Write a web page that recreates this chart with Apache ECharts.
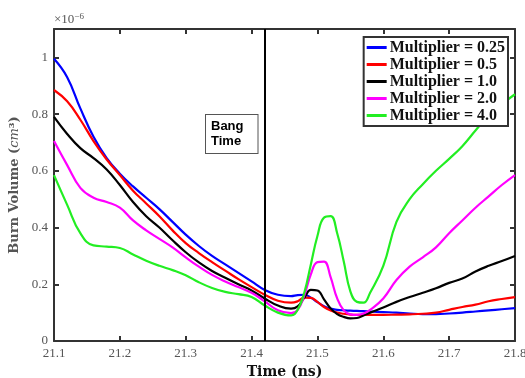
<!DOCTYPE html>
<html>
<head>
<meta charset="utf-8">
<script src="https://cdn.jsdelivr.net/npm/echarts@6/dist/echarts.min.js"></script>
<style>
  html, body { margin: 0; padding: 0; background: #fff; }
  #chart { width: 525px; height: 378px; }
</style>
</head>
<body>
<div id="chart"></div>
<script>
// time axis (ns) shared by every curve
const times = [
  21.10, 21.12, 21.14, 21.16, 21.18, 21.20, 21.22, 21.24, 21.26, 21.28,
  21.30, 21.32, 21.34, 21.36, 21.38, 21.40, 21.42, 21.44, 21.46, 21.47,
  21.48, 21.49, 21.50, 21.51, 21.52, 21.53, 21.54, 21.55, 21.56, 21.57,
  21.58, 21.60, 21.62, 21.64, 21.66, 21.68, 21.70, 21.72, 21.74, 21.76,
  21.78, 21.80
];

// burn volume, units of 1e-6 cm^3
const mult025 = [
  0.995, 0.93, 0.82, 0.72, 0.645, 0.59, 0.545, 0.505, 0.465, 0.42,
  0.375, 0.335, 0.30, 0.27, 0.24, 0.21, 0.18, 0.163, 0.158, 0.162,
  0.163, 0.153, 0.137, 0.123, 0.114, 0.110, 0.108, 0.107, 0.106, 0.105,
  0.104, 0.102, 0.100, 0.097, 0.095, 0.095, 0.097, 0.100, 0.104, 0.108,
  0.112, 0.116
];
const mult05 = [
  0.885, 0.845, 0.78, 0.705, 0.64, 0.585, 0.53, 0.485, 0.44, 0.39,
  0.345, 0.31, 0.278, 0.248, 0.218, 0.19, 0.163, 0.142, 0.135, 0.14,
  0.153, 0.152, 0.138, 0.12, 0.108, 0.10, 0.096, 0.093, 0.092, 0.092,
  0.092, 0.092, 0.093, 0.094, 0.096, 0.10, 0.11, 0.12, 0.128, 0.14,
  0.148, 0.155
];
const mult10 = [
  0.79, 0.73, 0.68, 0.645, 0.605, 0.55, 0.49, 0.44, 0.40, 0.355,
  0.313, 0.277, 0.247, 0.223, 0.20, 0.178, 0.15, 0.125, 0.114, 0.122,
  0.152, 0.18, 0.178, 0.147, 0.115, 0.095, 0.085, 0.080, 0.081, 0.09,
  0.10, 0.118, 0.138, 0.155, 0.17, 0.186, 0.205, 0.22, 0.245, 0.265,
  0.282, 0.30
];
const mult20 = [
  0.705, 0.62, 0.54, 0.505, 0.49, 0.47, 0.425, 0.39, 0.36, 0.33,
  0.295, 0.262, 0.233, 0.21, 0.19, 0.17, 0.14, 0.108, 0.098, 0.11,
  0.16, 0.235, 0.278, 0.28, 0.225, 0.15, 0.108, 0.094, 0.092, 0.097,
  0.11, 0.15, 0.215, 0.262, 0.295, 0.33, 0.38, 0.425, 0.47, 0.51,
  0.55, 0.585
];
const mult40 = [
  0.585, 0.48, 0.38, 0.337, 0.333, 0.328, 0.305, 0.283, 0.265, 0.25,
  0.232, 0.207, 0.187, 0.173, 0.165, 0.155, 0.125, 0.10, 0.09, 0.11,
  0.17, 0.27, 0.37, 0.435, 0.44, 0.38, 0.28, 0.175, 0.138, 0.135,
  0.17, 0.265, 0.42, 0.50, 0.553, 0.60, 0.642, 0.687, 0.742, 0.795,
  0.835, 0.87
];

const seriesNames = [
  "Multiplier = 0.25", "Multiplier = 0.5", "Multiplier = 1.0",
  "Multiplier = 2.0", "Multiplier = 4.0"
];
const seriesValues = [mult025, mult05, mult10, mult20, mult40];
const seriesColors = ["#0000ff", "#ff0000", "#000000", "#ff00ff", "#22ee22"];

const bangTime = 21.418;

const SERIF = "'Liberation Serif', 'DejaVu Serif', serif";
const FRAME = "#333";

const chart = echarts.init(document.getElementById("chart"), null, { renderer: "canvas" });

const baseX = {
  type: "value",
  min: 21.1,
  max: 21.8,
  interval: 0.1,
  axisLine: { show: true, onZero: false, lineStyle: { color: FRAME, width: 2 } },
  axisTick: { show: true, inside: true, length: 5, lineStyle: { color: FRAME, width: 2 } },
  splitLine: { show: false },
};
const baseY = {
  type: "value",
  min: 0,
  max: 1.1,
  interval: 0.2,
  axisLine: { show: true, onZero: false, lineStyle: { color: FRAME, width: 2 } },
  axisTick: { show: true, inside: true, length: 5, lineStyle: { color: FRAME, width: 2 } },
  splitLine: { show: false },
};

const series = seriesNames.map((name, i) => ({
  name,
  type: "line",
  xAxisIndex: 0,
  yAxisIndex: 0,
  data: times.map((t, k) => [t, seriesValues[i][k]]),
  showSymbol: false,
  smooth: 0.45,
  lineStyle: { color: seriesColors[i], width: 2.2 },
  itemStyle: { color: seriesColors[i] },
  animation: false,
  z: 3,
}));

// bang time marker
series[0].markLine = {
  silent: true,
  symbol: "none",
  label: { show: false },
  lineStyle: { color: "#000", width: 2, type: "solid" },
  data: [{ xAxis: bangTime }],
  animation: false,
};

chart.setOption({
  backgroundColor: "#fff",
  animation: false,
  grid: { left: 54, right: 10, top: 29, bottom: 37, containLabel: false, outerBoundsMode: "none" },
  xAxis: [
    {
      ...baseX,
      position: "bottom",
      name: "Time (ns)",
      nameLocation: "middle",
      nameGap: 23,
      nameTextStyle: { fontFamily: "'DejaVu Serif', serif", fontWeight: "bold", fontSize: 14, color: "#111" },
      axisLabel: {
        color: "#555",
        fontFamily: SERIF,
        fontSize: 13,
        margin: 6,
        formatter: (v) => v.toFixed(1),
      },
    },
    { ...baseX, position: "top", axisLabel: { show: false } },
  ],
  yAxis: [
    {
      ...baseY,
      position: "left",
      name: "{b|Burn Volume (}{i|cm}{b|³}{b|)}",
      nameLocation: "middle",
      nameGap: 25,
      nameTextStyle: {
        rich: {
          b: { fontFamily: "'DejaVu Serif', serif", fontWeight: "bold", fontSize: 13, color: "#555" },
          i: { fontFamily: "'DejaVu Serif', serif", fontStyle: "italic", fontSize: 13, color: "#555" },
        },
      },
      axisLabel: {
        color: "#555",
        fontFamily: SERIF,
        fontSize: 13,
        margin: 6,
        showMaxLabel: false,
      },
    },
    { ...baseY, position: "right", axisLabel: { show: false } },
  ],
  legend: {
    data: seriesNames,
    orient: "vertical",
    right: 17,
    top: 37,
    padding: [2, 3, 2, 3],
    itemGap: 0,
    itemWidth: 20,
    itemHeight: 3,
    icon: "rect",
    backgroundColor: "#fff",
    borderColor: FRAME,
    borderWidth: 2,
    borderRadius: 0,
    selectedMode: false,
    textStyle: {
      fontFamily: SERIF,
      fontWeight: "bold",
      fontSize: 16,
      lineHeight: 17,
      color: "#111",
      padding: [0, 0, 0, -2],
    },
  },
  graphic: [
    {
      type: "text",
      left: 54,
      top: 12,
      silent: true,
      style: {
        text: "{m|×10}{s|−6}",
        rich: {
          m: { fontFamily: SERIF, fontSize: 13, fill: "#555", lineHeight: 14 },
          s: { fontFamily: SERIF, fontSize: 9, fill: "#555", verticalAlign: "top", padding: [0, 0, 6, 0] },
        },
      },
    },
    {
      type: "text",
      left: 205,
      top: 114,
      silent: true,
      z: 10,
      style: {
        text: "Bang\nTime",
        font: "bold 13px 'Liberation Sans', Arial, sans-serif",
        fill: "#000",
        lineHeight: 15,
        backgroundColor: "#fff",
        borderColor: "#555",
        borderWidth: 1,
        padding: [4, 14, 4, 5],
      },
    },
  ],
  series,
});
</script>
</body>
</html>
